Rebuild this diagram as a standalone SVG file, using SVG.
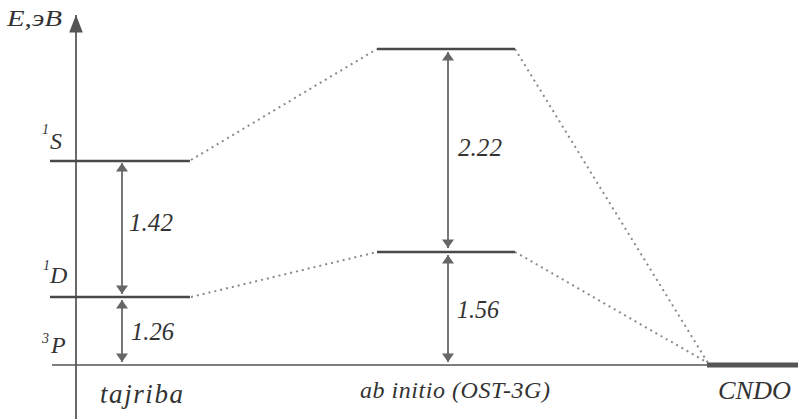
<svg xmlns="http://www.w3.org/2000/svg" width="798" height="419" viewBox="0 0 798 419">
<style>
.lvl{stroke:#4a4a4a;stroke-width:2.6;fill:none}
.dot{stroke:#8a8a8a;stroke-width:2;stroke-dasharray:2 4;fill:none}
.base{stroke:#555;stroke-width:1.4;fill:none}
.dim{stroke:#555;stroke-width:1.6;fill:none;marker-start:url(#ah);marker-end:url(#ah)}
.t{font-style:italic;fill:#333;font-family:'Liberation Serif','Times New Roman',serif}
</style>
<defs>
<marker id="ah" viewBox="0 0 10 14" refX="10" refY="7" markerWidth="9" markerHeight="7.5" markerUnits="strokeWidth" orient="auto-start-reverse">
<path d="M0,0 L10,7 L0,14 z" fill="#666"/>
</marker>
<marker id="ax" viewBox="0 0 18 14" refX="18" refY="7" markerWidth="11" markerHeight="8.5" markerUnits="strokeWidth" orient="auto">
<path d="M0,0 L18,7 L0,14 z" fill="#555"/>
</marker>
</defs>
<g id="axis">
<line x1="76" y1="419" x2="76" y2="15" stroke="#444" stroke-width="1.6" marker-end="url(#ax)"/>
<text class="t" x="7" y="26" font-size="23" textLength="55" lengthAdjust="spacingAndGlyphs">E,эВ</text>
</g>
<g id="connectors">
<line class="dot" x1="191" y1="160" x2="377" y2="49"/>
<line class="dot" x1="191" y1="297" x2="377" y2="252"/>
<line class="dot" x1="515" y1="49" x2="708" y2="363"/>
<line class="dot" x1="515" y1="252" x2="708" y2="363"/>
<line class="dim" x1="122" y1="163" x2="122" y2="294"/>
<line class="dim" x1="122" y1="300" x2="122" y2="362"/>
<line class="dim" x1="448" y1="52" x2="448" y2="248"/>
<line class="dim" x1="448" y1="255" x2="448" y2="362"/>
</g>
<g id="tajriba">
<line class="lvl" x1="50" y1="161" x2="190" y2="161"/>
<line class="lvl" x1="50" y1="297" x2="190" y2="297"/>
<text class="t" x="42" y="134" font-size="14">1</text>
<text class="t" x="50" y="149" font-size="24">S</text>
<text class="t" x="43" y="270" font-size="14">1</text>
<text class="t" x="50" y="283" font-size="24">D</text>
<text class="t" x="42" y="343" font-size="14">3</text>
<text class="t" x="51" y="353" font-size="24">P</text>
<text class="t" x="129" y="231" font-size="26" textLength="44" lengthAdjust="spacingAndGlyphs">1.42</text>
<text class="t" x="131" y="340" font-size="25" textLength="43" lengthAdjust="spacingAndGlyphs">1.26</text>
<text class="t" x="100" y="403" font-size="27" textLength="83" lengthAdjust="spacing">tajriba</text>
</g>
<g id="abinitio">
<line class="lvl" x1="377" y1="49" x2="515" y2="49"/>
<line class="lvl" x1="377" y1="252" x2="515" y2="252"/>
<text class="t" x="458" y="156" font-size="26" textLength="44" lengthAdjust="spacingAndGlyphs">2.22</text>
<text class="t" x="457" y="318" font-size="26" textLength="42" lengthAdjust="spacingAndGlyphs">1.56</text>
<text class="t" x="360" y="398" font-size="24" textLength="190" lengthAdjust="spacing">ab initio (OST-3G)</text>
</g>
<g id="baseline">
<line class="base" x1="52" y1="365" x2="708" y2="365"/>
</g>
<g id="cndo">
<line x1="707" y1="365" x2="798" y2="365" stroke="#555" stroke-width="5"/>
<text class="t" x="718" y="399" font-size="25" textLength="73" lengthAdjust="spacingAndGlyphs">CNDO</text>
</g>
</svg>
